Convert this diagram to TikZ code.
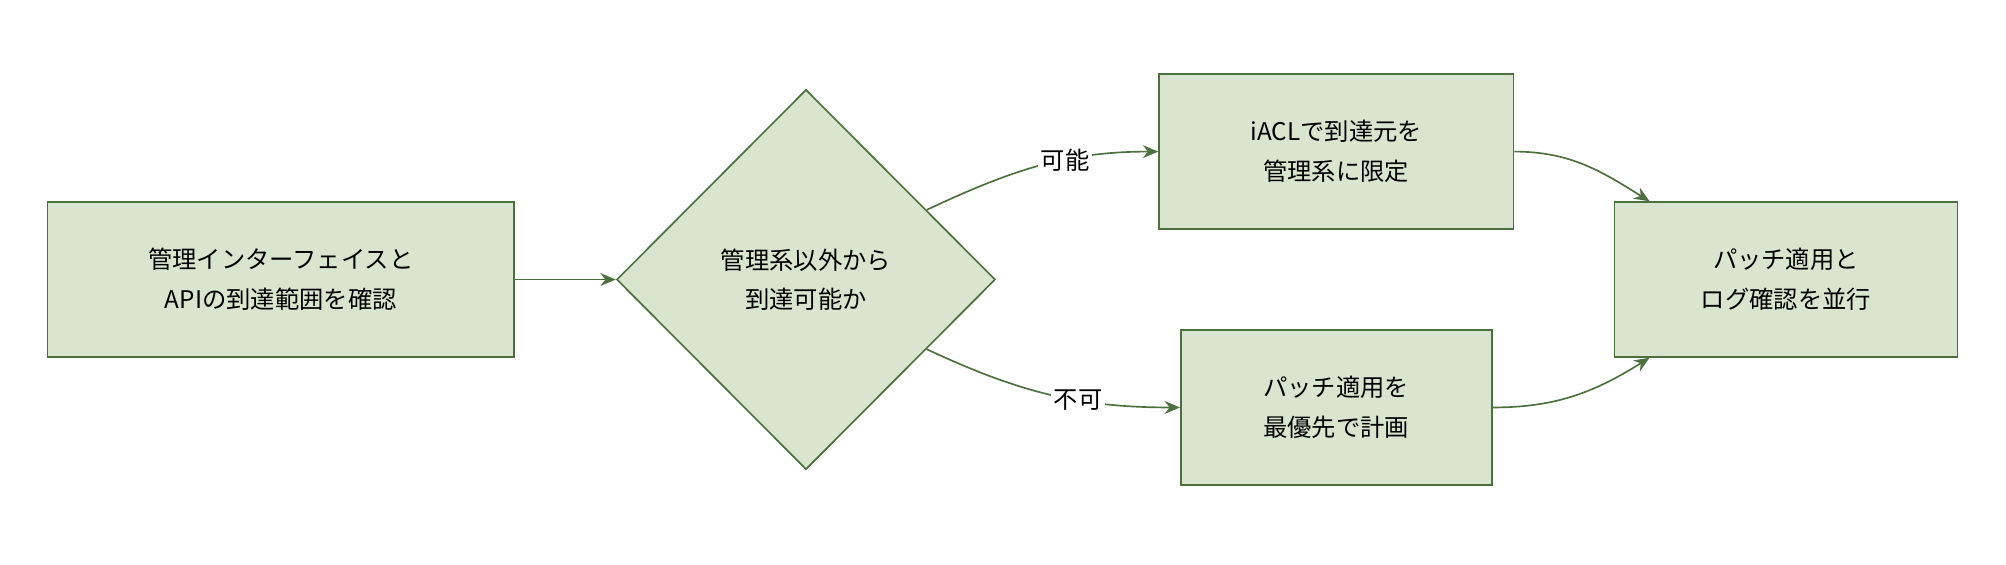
\documentclass[tikz,border=0pt]{standalone}
\usepackage{fontspec}
\setmainfont{Noto Sans CJK JP}
\usetikzlibrary{shapes.geometric,arrows.meta}
\definecolor{boxfill}{HTML}{DAE5CF}
\definecolor{boxline}{HTML}{4E7040}
\tikzset{
  task/.style={draw=boxline, fill=boxfill, line width=1.3pt, align=center,
               minimum height=121pt, inner sep=0pt},
  check/.style={diamond, draw=boxline, fill=boxfill, line width=1.3pt, align=center,
                minimum width=296pt, minimum height=297pt, inner sep=0pt},
  link/.style={draw=boxline, line width=1.3pt, -{Stealth[length=12pt,width=10pt]}},
  lbl/.style={fill=white, inner sep=2pt, text=black}
}
\begin{document}
\begin{tikzpicture}[x=1pt, y=-1pt, font=\fontsize{19}{31}\selectfont]
\useasboundingbox (0,0) rectangle (1568,441);

% nodes
\node[task, minimum width=365pt] (scope) at (219.5,218.5) {管理インターフェイスと\\APIの到達範囲を確認};
\node[check] (reach) at (630,218.5) {管理系以外から\\到達可能か};
\node[task, minimum width=277pt] (acl) at (1044.5,118.5) {iACLで到達元を\\管理系に限定};
\node[task, minimum width=243pt] (prio) at (1044.5,318.5) {パッチ適用を\\最優先で計画};
\node[task, minimum width=268pt] (patch) at (1396,218.5) {パッチ適用と\\ログ確認を並行};

% connectors
\draw[link] (scope) -- (reach);
\draw[link] (reach.30) to[out=25, in=180] node[lbl, pos=.62] {可能} (acl.west);
\draw[link] (reach.-30) to[out=-25, in=180] node[lbl, pos=.62] {不可} (prio.west);
\draw[link] (acl.east) to[out=0, in=148] ([xshift=28pt]patch.north west);
\draw[link] (prio.east) to[out=0, in=-148] ([xshift=28pt]patch.south west);
\end{tikzpicture}
\end{document}
